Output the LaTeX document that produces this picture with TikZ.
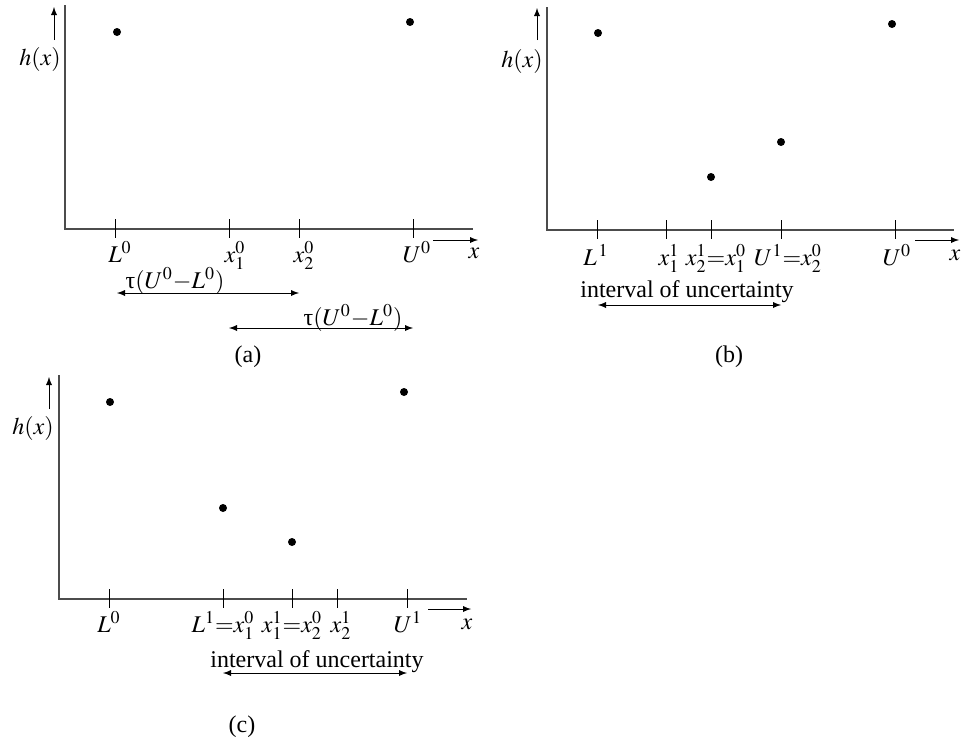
\documentclass[tikz,border=0pt,12pt]{standalone}
\usepackage{mathptmx}
\usepackage[no-math]{fontspec}
\setmainfont{Liberation Serif}
\usetikzlibrary{arrows}

\tikzset{
    axis/.style={draw=black!70, line width=0.7pt},
    tickmark/.style={line width=0.45pt},
    lab/.style={anchor=base, inner sep=0pt},
    >=latex
}
\newcommand{\uptau}{\mbox{τ}}

\begin{document}
\begin{tikzpicture}[x=0.5pt,y=-0.5pt]
    \useasboundingbox (0,0) rectangle (967,744);
% (a)
    \draw[axis] (65,5) -- (65,229) -- (473,229);
    \foreach \px in {115,229,299,413}
        \draw[tickmark] (\px,219) -- (\px,238);
    \fill (117,32) circle (2pt);
    \fill (410,22) circle (2pt);
    \node[lab] (ha) at (40,65) {$h(x)$};
    \coordinate (ya0) at (54,40);
    \coordinate (ya1) at (54,7);
    \draw[->] (ya0) -- (ya1);
    \coordinate (xa0) at (433,240);
    \coordinate (xa1) at (478,240);
    \draw[->] (xa0) -- (xa1);
    \node[lab] (xa) at (474,258) {$x$};
    \node[lab] (La0) at (120,262) {$L^0$};
    \node[lab] (xa10) at (235,262) {$x_1^0$};
    \node[lab] (xa20) at (304,262) {$x_2^0$};
    \node[lab] (Ua0) at (417,262) {$U^0$};
    \node[lab] (tau1) at (175,288) {$\uptau(U^0{-}L^0)$};
    \coordinate (t1l) at (117,293);
    \coordinate (t1r) at (299,293);
    \draw[<->] (t1l) -- (t1r);
    \node[lab] (tau2) at (353,325) {$\uptau(U^0{-}L^0)$};
    \coordinate (t2l) at (229,328);
    \coordinate (t2r) at (413,328);
    \draw[<->] (t2l) -- (t2r);
    \node[lab] (capa) at (248,362) {(a)};
% (b)
    \draw[axis] (547,7) -- (547,230) -- (954,230);
    \foreach \px in {597,666,711,781,895}
        \draw[tickmark] (\px,220) -- (\px,239);
    \fill (598,33) circle (2pt);
    \fill (892,24) circle (2pt);
    \fill (711,177) circle (2pt);
    \fill (781,142) circle (2pt);
    \node[lab] (hb) at (522,67) {$h(x)$};
    \coordinate (yb0) at (537,40);
    \coordinate (yb1) at (537,8);
    \draw[->] (yb0) -- (yb1);
    \coordinate (xb0) at (915,240);
    \coordinate (xb1) at (959,240);
    \draw[->] (xb0) -- (xb1);
    \node[lab] (xb) at (955,260) {$x$};
    \node[lab] (Lb1) at (596,265) {$L^{\,1}$};
    \node[lab] (xb11) at (669,265) {$x_1^1$};
    \node[lab] (xb21) at (716,265) {$x_2^1{=}x_1^0$};
    \node[lab] (Ub1) at (788,265) {$U^1{=}x_2^0$};
    \node[lab] (Ub0) at (897,265) {$U^0$};
    \node[lab] (ivb) at (687,297) {interval of uncertainty};
    \coordinate (ibl) at (598,305);
    \coordinate (ibr) at (781,305);
    \draw[<->] (ibl) -- (ibr);
    \node[lab] (capb) at (729,362) {(b)};
% (c)
    \draw[axis] (59,375) -- (59,599) -- (467,599);
    \foreach \px in {109,223,292,337,407}
        \draw[tickmark] (\px,589) -- (\px,608);
    \fill (110,402) circle (2pt);
    \fill (404,392) circle (2pt);
    \fill (223,508) circle (2pt);
    \fill (292,542) circle (2pt);
    \node[lab] (hc) at (33,434) {$h(x)$};
    \coordinate (yc0) at (49,409);
    \coordinate (yc1) at (49,377);
    \draw[->] (yc0) -- (yc1);
    \coordinate (xc0) at (428,609);
    \coordinate (xc1) at (471,609);
    \draw[->] (xc0) -- (xc1);
    \node[lab] (xc) at (467,629) {$x$};
    \node[lab] (Lc0) at (109,632) {$L^0$};
    \node[lab] (Lc1) at (223,632) {$L^1{=}x_1^0$};
    \node[lab] (xc11) at (292,632) {$x_1^1{=}x_2^0$};
    \node[lab] (xc21) at (341,632) {$x_2^1$};
    \node[lab] (Uc1) at (408,632) {$U^1$};
    \node[lab] (ivc) at (317,667) {interval of uncertainty};
    \coordinate (icl) at (223,673);
    \coordinate (icr) at (407,673);
    \draw[<->] (icl) -- (icr);
    \node[lab] (capc) at (242,732) {(c)};
\end{tikzpicture}
\end{document}
